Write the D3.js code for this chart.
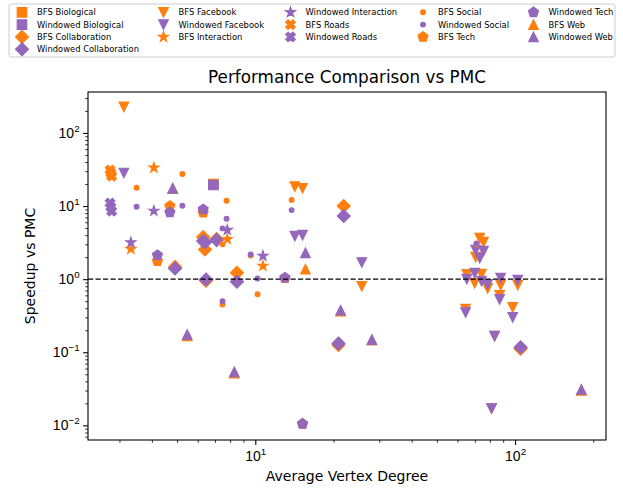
<!DOCTYPE html>
<html>
<head>
<meta charset="utf-8">
<script src="https://cdn.jsdelivr.net/npm/d3@7"></script>
<style>
    body { margin: 0; background: #fff; }
    svg { font-family: 'DejaVu Sans', sans-serif; display: block; }
</style>
</head>
<body>
<div class="canvas"></div>
<script>
'use strict';

// one entry per graph family; BFS and windowed share the x value
const categories = ['Biological', 'Collaboration', 'Facebook', 'Interaction', 'Roads', 'Social', 'Tech', 'Web'];
const markers = ['square', 'diamond', 'triDown', 'star', 'xFilled', 'point', 'pentagon', 'triUp'];

const avgDegree = [
    [6.9],
    [4.91, 6.30, 6.40, 7.10, 6.46, 8.5, 21.9, 20.9, 105],
    [3.12, 14.2, 15.2, 25.7, 64.5, 65.2, 69.9, 74.3, 78.4, 88.0, 102.4, 87.2, 97.9, 83.4, 81.2, 70.5, 73.1, 75.6],
    [4.07, 3.32, 7.8, 10.7],
    [2.76, 2.78, 2.80],
    [3.49, 5.24, 7.75, 7.48, 7.48, 9.6, 10.2, 13.8, 71],
    [4.69, 4.2, 6.3, 13.0, 15.2],
    [4.81, 5.47, 8.3, 15.6, 21.3, 28.1, 180]
];

const bfsSpeedup = [
    [20.0],
    [1.47, 3.76, 2.55, 3.53, 0.95, 1.22, 10.0, 0.126, 0.112],
    [227, 18.4, 17.5, 0.80, 0.39, 1.16, 0.88, 1.17, 0.75, 0.83, 0.83, 0.60, 0.41, 0.166, 0.017, 2.00, 3.64, 3.21],
    [33.5, 2.58, 3.53, 1.52],
    [31.1, 28.3, 25.7],
    [17.8, 27.4, 11.8, 3.0, 0.45, 2.1, 0.62, 12.1, 3.0],
    [10.0, 1.76, 8.1, 1.03, 0.0105],
    [17.5, 0.168, 0.052, 1.37, 0.365, 0.146, 0.030]
];

const windowedSpeedup = [
    [19.4],
    [1.40, 3.32, 3.2, 3.42, 0.99, 0.92, 7.3, 0.132, 0.117],
    [28.3, 3.88, 4.0, 1.69, 0.35, 1.0, 1.21, 0.94, 0.85, 1.03, 0.97, 0.53, 0.30, 0.166, 0.017, 2.50, 1.94, 2.42],
    [8.6, 3.18, 4.7, 2.08],
    [11.0, 9.7, 8.5],
    [9.8, 10.1, 6.7, 4.95, 0.50, 2.18, 1.02, 8.8, 3.08],
    [8.2, 2.13, 9.0, 1.05, 0.0105],
    [17.5, 0.175, 0.054, 2.29, 0.376, 0.149, 0.031]
];

const xTicks = [10, 100];
const xTickExp = ['1', '2'];
const yTicks = [0.01, 0.1, 1, 10, 100];
const yTickExp = ['\u22122', '\u22121', '0', '1', '2'];

const dims = { width: 623, height: 492 };
const plot = { left: 88, right: 606, top: 92, bottom: 440 };
const colours = { BFS: '#ff7f0e', Windowed: '#9467bd' };
const markerSize = 9.5;

const svg = d3.select('.canvas')
    .append('svg')
    .attr('width', dims.width)
    .attr('height', dims.height);

const x = d3.scaleLog()
    .domain([10 ** 0.356, 10 ** 2.35])
    .range([plot.left, plot.right]);

const y = d3.scaleLog()
    .domain([10 ** -2.2, 10 ** 2.56])
    .range([plot.bottom, plot.top]);

// matplotlib-like marker outlines, centred on 0,0
const polygon = pts => 'M' + pts.map(p => `${p[0].toFixed(2)},${p[1].toFixed(2)}`).join('L') + 'Z';

const shapes = {
    square: s => { const h = s / 2; return polygon([[-h, -h], [h, -h], [h, h], [-h, h]]); },
    diamond: s => { const h = s * 0.68; return polygon([[0, -h], [h, 0], [0, h], [-h, 0]]); },
    triDown: s => { const h = s / 2; return polygon([[-h, -h], [h, -h], [0, h]]); },
    triUp: s => { const h = s / 2; return polygon([[0, -h], [h, h], [-h, h]]); },
    star: s => {
        const r = s * 0.55, ri = r * 0.382;
        return polygon(d3.range(10).map(i => {
            const a = -Math.PI / 2 + i * Math.PI / 5, rr = i % 2 ? ri : r;
            return [rr * Math.cos(a), rr * Math.sin(a)];
        }));
    },
    pentagon: s => {
        const r = s * 0.55;
        return polygon(d3.range(5).map(i => {
            const a = -Math.PI / 2 + i * 2 * Math.PI / 5;
            return [r * Math.cos(a), r * Math.sin(a)];
        }));
    },
    xFilled: s => polygon([[-1, -2], [0, -1], [1, -2], [2, -1], [1, 0], [2, 1], [1, 2], [0, 1], [-1, 2], [-2, 1], [-1, 0], [-2, -1]]
        .map(p => [p[0] * s / 4, p[1] * s / 4])),
    point: s => { const r = s / 4; return `M${r},0A${r},${r} 0 1,1 ${-r},0A${r},${r} 0 1,1 ${r},0Z`; }
};

// axes ticks
const xAxis = svg.append('g')
    .attr('transform', `translate(0,${plot.bottom})`)
    .call(d3.axisBottom(x).tickValues(xTicks).tickSize(4.9).tickSizeOuter(0).tickFormat(''));

const xMinor = svg.append('g')
    .attr('transform', `translate(0,${plot.bottom})`)
    .call(d3.axisBottom(x)
        .tickValues([3, 4, 5, 6, 7, 8, 9, 20, 30, 40, 50, 60, 70, 80, 90, 200])
        .tickSize(2.8).tickSizeOuter(0).tickFormat(''));

const yAxis = svg.append('g')
    .attr('transform', `translate(${plot.left},0)`)
    .call(d3.axisLeft(y).tickValues(yTicks).tickSize(4.9).tickSizeOuter(0).tickFormat(''));

const yMinorValues = [];
[0.001, 0.01, 0.1, 1, 10, 100].forEach(base => {
    d3.range(2, 10).forEach(m => {
        const v = base * m;
        if (v > y.domain()[0] && v < y.domain()[1]) yMinorValues.push(v);
    });
});

const yMinor = svg.append('g')
    .attr('transform', `translate(${plot.left},0)`)
    .call(d3.axisLeft(y).tickValues(yMinorValues).tickSize(2.8).tickSizeOuter(0).tickFormat(''));

[xAxis, xMinor, yAxis, yMinor].forEach(g => g.select('.domain').remove());
[xAxis, yAxis].forEach(g => g.selectAll('.tick line').attr('stroke-width', 1.1));
[xMinor, yMinor].forEach(g => g.selectAll('.tick line').attr('stroke-width', 0.8));

xAxis.selectAll('.tick text')
    .attr('y', 21).attr('dy', 0)
    .attr('font-size', 14).attr('fill', '#000')
    .each(function(d, i) {
        const t = d3.select(this);
        t.append('tspan').text('10');
        t.append('tspan').attr('dy', -6).attr('font-size', 9.8).text(xTickExp[i]);
    });

yAxis.selectAll('.tick text')
    .attr('x', -8.4).attr('dy', 0).attr('y', 4.5)
    .attr('font-size', 14).attr('fill', '#000')
    .each(function(d, i) {
        const t = d3.select(this);
        t.append('tspan').text('10');
        t.append('tspan').attr('dy', -6).attr('font-size', 9.8).text(yTickExp[i]);
    });

// points: BFS then windowed for each family, in legend order
const graph = svg.append('g');

categories.forEach((cat, ci) => {
    [['BFS', bfsSpeedup], ['Windowed', windowedSpeedup]].forEach(([kind, values]) => {
        const pts = avgDegree[ci].map((deg, i) => ({ deg, val: values[ci][i] }));
        graph.append('g')
            .selectAll('path')
            .data(pts)
            .enter().append('path')
            .attr('d', shapes[markers[ci]](markerSize))
            .attr('transform', d => `translate(${x(d.deg)},${y(d.val)})`)
            .attr('fill', colours[kind])
            .attr('stroke', colours[kind])
            .attr('stroke-width', 1.2)
            .attr('stroke-linejoin', 'miter');
    });
});

// reference line at speedup 1
svg.append('line')
    .attr('x1', plot.left).attr('x2', plot.right)
    .attr('y1', y(1)).attr('y2', y(1))
    .attr('stroke', '#000')
    .attr('stroke-width', 1.4)
    .attr('stroke-dasharray', '5.2,2.3');

// frame
svg.append('rect')
    .attr('x', plot.left).attr('y', plot.top)
    .attr('width', plot.right - plot.left)
    .attr('height', plot.bottom - plot.top)
    .attr('fill', 'none')
    .attr('stroke', '#000')
    .attr('stroke-width', 1.1);

// titles
svg.append('text')
    .attr('x', (plot.left + plot.right) / 2).attr('y', 82.5)
    .attr('text-anchor', 'middle')
    .attr('font-size', 16.8)
    .text('Performance Comparison vs PMC');

svg.append('text')
    .attr('x', (plot.left + plot.right) / 2).attr('y', 481)
    .attr('text-anchor', 'middle')
    .attr('font-size', 14)
    .text('Average Vertex Degree');

svg.append('text')
    .attr('transform', `translate(35,${(plot.top + plot.bottom) / 2}) rotate(-90)`)
    .attr('text-anchor', 'middle')
    .attr('font-size', 14)
    .text('Speedup vs PMC');

// legend, 5 columns filled top to bottom
const legendItems = [];
categories.forEach((cat, ci) => {
    ['BFS', 'Windowed'].forEach(kind => {
        legendItems.push({ label: `${kind} ${cat}`, shape: markers[ci], colour: colours[kind] });
    });
});

const legendCols = [[0, 1, 2, 3], [4, 5, 6], [7, 8, 9], [10, 11, 12], [13, 14, 15]];
const colX = [22, 163.5, 290.5, 423, 533.5];
const rowY = [12.3, 24.6, 36.9, 49.2];

const legend = svg.append('g');

legend.append('rect')
    .attr('x', 9).attr('y', 4)
    .attr('width', 606).attr('height', 53)
    .attr('rx', 2.5)
    .attr('fill', '#fff').attr('fill-opacity', 0.8)
    .attr('stroke', '#cccccc').attr('stroke-width', 1);

legendCols.forEach((col, c) => {
    col.forEach((idx, r) => {
        const item = legendItems[idx];
        const g = legend.append('g').attr('transform', `translate(${colX[c]},${rowY[r]})`);
        g.append('path')
            .attr('d', shapes[item.shape](markerSize))
            .attr('fill', item.colour)
            .attr('stroke', item.colour)
            .attr('stroke-width', 1.2);
        g.append('text')
            .attr('x', 15).attr('y', 3)
            .attr('font-size', 8.4)
            .text(item.label);
    });
});
</script>
</body>
</html>
